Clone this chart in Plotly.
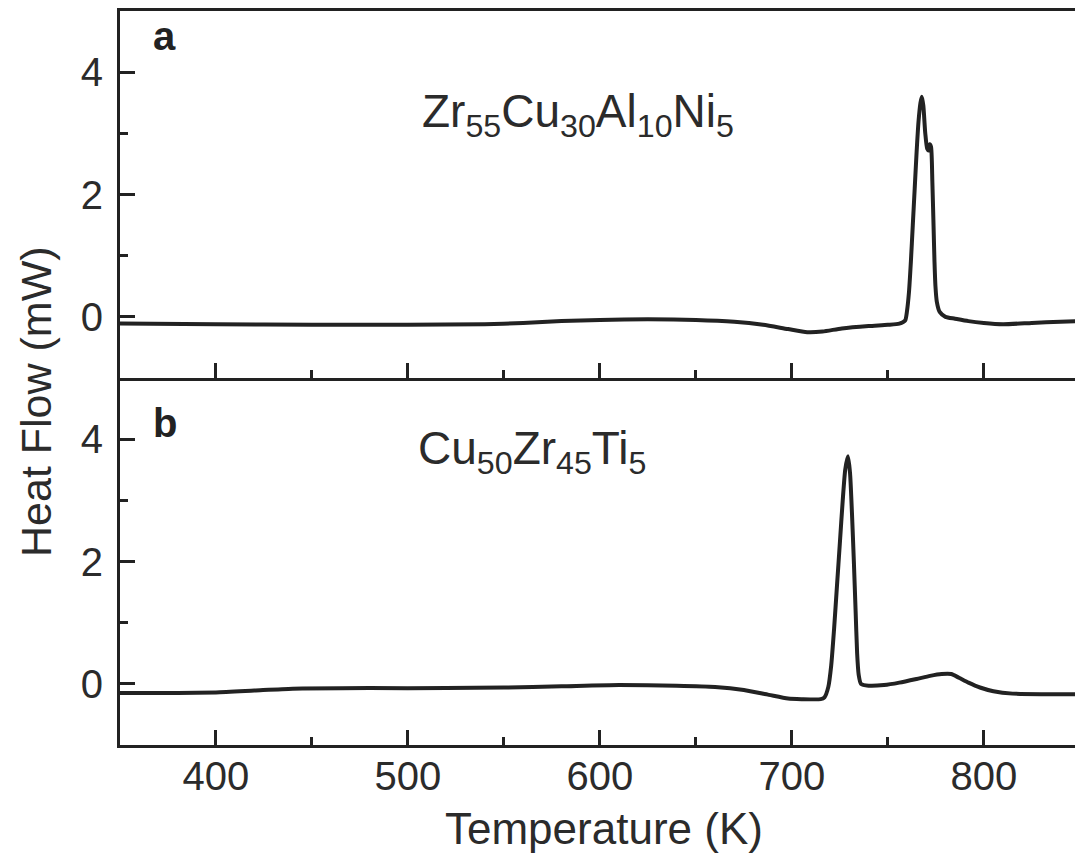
import plotly.graph_objects as go

# ---- data ----
temp_a = [350, 400, 450, 500, 540, 560, 580, 600, 625, 650, 670, 685, 698, 708, 716, 726, 740, 750,
          756, 759, 760, 761, 762, 763, 764, 765, 766, 767, 767.7, 768.5, 769.5, 770.5, 771.3, 771.8,
          772.5, 773.2, 773.8, 774.3, 774.8, 775.5, 777, 780, 785, 792, 800, 810, 825, 840, 848]
heat_a = [-0.11, -0.12, -0.13, -0.13, -0.12, -0.10, -0.07, -0.05, -0.04, -0.05, -0.08, -0.13, -0.20,
          -0.25, -0.24, -0.19, -0.15, -0.13, -0.11, -0.06, 0.1, 0.4, 0.9, 1.5, 2.1, 2.7, 3.2, 3.5, 3.6,
          3.45, 3.0, 2.75, 2.72, 2.82, 2.78, 2.2, 1.5, 0.9, 0.5, 0.25, 0.08, 0.0, -0.03, -0.07, -0.10,
          -0.12, -0.10, -0.08, -0.07]

temp_b = [350, 380, 400, 420, 440, 480, 520, 550, 580, 610, 640, 660, 675, 688, 698, 705, 715, 717,
          719, 720.5, 722, 723.5, 725, 726.5, 727.8, 729.2, 730.3, 731.3, 732.3, 733.2, 734, 734.8,
          736, 740, 748, 756, 765, 772, 778, 783, 787, 792, 798, 805, 815, 830, 848]
heat_b = [-0.15, -0.15, -0.14, -0.11, -0.08, -0.07, -0.07, -0.06, -0.04, -0.02, -0.03, -0.05, -0.10,
          -0.18, -0.24, -0.25, -0.25, -0.22, -0.05, 0.3, 0.9, 1.6, 2.3, 3.0, 3.5, 3.72, 3.45, 2.8, 2.0,
          1.2, 0.5, 0.15, 0.0, -0.03, -0.02, 0.02, 0.08, 0.13, 0.16, 0.16, 0.10, 0.02, -0.06, -0.12,
          -0.16, -0.17, -0.17]

x_ticks = [400, 500, 600, 700, 800]
y_ticks = [0, 2, 4]
label_a = "Zr<sub>55</sub>Cu<sub>30</sub>Al<sub>10</sub>Ni<sub>5</sub>"
label_b = "Cu<sub>50</sub>Zr<sub>45</sub>Ti<sub>5</sub>"

INK = "#222222"
TXT = "#2b2b2b"
FONT = "Liberation Sans, Arial, sans-serif"

fig = go.Figure()
fig.add_trace(go.Scatter(x=temp_a, y=heat_a, mode="lines",
                         line=dict(color=INK, width=4, shape="spline", smoothing=0.6),
                         xaxis="x", yaxis="y", showlegend=False))
fig.add_trace(go.Scatter(x=temp_b, y=heat_b, mode="lines",
                         line=dict(color=INK, width=4, shape="spline", smoothing=0.6),
                         xaxis="x2", yaxis="y2", showlegend=False))

W, H = 1075, 861
L, R, T, B = 120, 0, 11, 116

xcommon = dict(range=[350, 847.5], tickvals=x_ticks, ticks="inside", ticklen=15, tickwidth=3,
               tickcolor=INK, showline=True, linecolor=INK, linewidth=3, showgrid=False,
               zeroline=False, minor=dict(dtick=50, tick0=350, ticks="inside", ticklen=8,
                                          tickwidth=3, tickcolor=INK, showgrid=False),
               tickfont=dict(family=FONT, size=40, color=TXT))
ycommon = dict(range=[-1, 5], tickvals=y_ticks, ticks="inside", ticklen=15, tickwidth=3,
               tickcolor=INK, showline=True, linecolor=INK, linewidth=3, showgrid=False,
               zeroline=False, minor=dict(dtick=1, tick0=-1, ticks="inside", ticklen=8,
                                          tickwidth=3, tickcolor=INK, showgrid=False),
               tickfont=dict(family=FONT, size=40, color=TXT), ticklabelstandoff=6)

fig.update_layout(
    width=W, height=H, margin=dict(l=L, r=R, t=T, b=B),
    paper_bgcolor="white", plot_bgcolor="white",
    xaxis=dict(xcommon, anchor="y", domain=[0, 1], mirror=True, showticklabels=False, matches="x2"),
    xaxis2=dict(xcommon, anchor="y2", domain=[0, 1], ticklabelstandoff=-6),
    yaxis=dict(ycommon, anchor="x", domain=[0.5, 1]),
    yaxis2=dict(ycommon, anchor="x2", domain=[0, 0.5]),
)

pw, ph = W - L - R, H - T - B
def px(x):
    return (x - L) / pw
def py(y):
    return (H - B - y) / ph

ann = [
    dict(text="Temperature (K)", x=px(604), y=py(829), font=dict(family=FONT, size=44, color=TXT)),
    dict(text="Heat Flow (mW)", x=px(36), y=py(402), textangle=-90,
         font=dict(family=FONT, size=43, color=TXT)),
    dict(text="<b>a</b>", x=px(151), y=py(36), xanchor="left",
         font=dict(family=FONT, size=40, color=INK)),
    dict(text="<b>b</b>", x=px(151), y=py(423), xanchor="left",
         font=dict(family=FONT, size=40, color=INK)),
    dict(text=label_a, x=px(420), y=py(115), xanchor="left",
         font=dict(family=FONT, size=46, color=TXT)),
    dict(text=label_b, x=px(416), y=py(451), xanchor="left",
         font=dict(family=FONT, size=46, color=TXT)),
]
for a in ann:
    a.update(xref="paper", yref="paper", showarrow=False)
    a.setdefault("xanchor", "center")
    a.setdefault("yanchor", "middle")
fig.update_layout(annotations=ann)

fig.write_html("out.html")
